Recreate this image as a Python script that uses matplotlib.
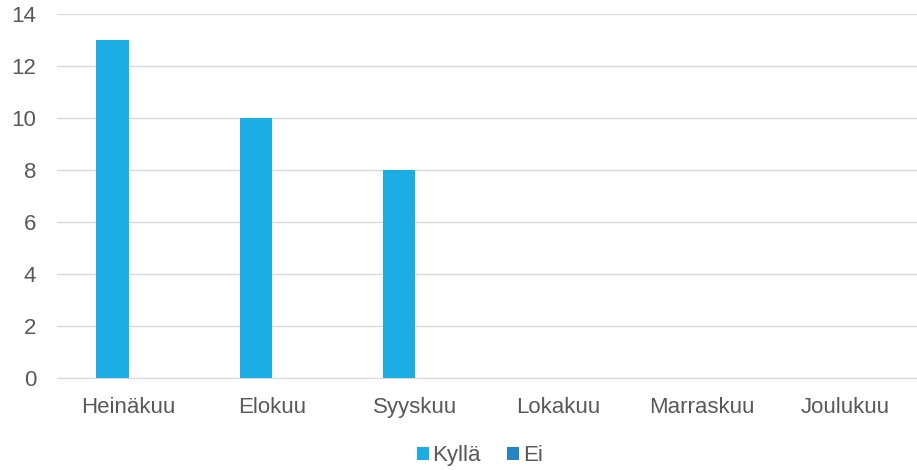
import numpy as np
import matplotlib.pyplot as plt

plt.rcParams['font.family'] = ['Liberation Sans', 'DejaVu Sans']

months = ["Heinäkuu", "Elokuu", "Syyskuu", "Lokakuu", "Marraskuu", "Joulukuu"]
kylla = [13, 10, 8, 0, 0, 0]
ei = [0, 0, 0, 0, 0, 0]

fig = plt.figure(figsize=(9.17, 4.70), dpi=100)
ax = fig.add_axes([0.062, 0.196, 0.938, 0.774])

x = np.arange(len(months))
w = 0.225
ax.bar(x - w / 2, kylla, width=w, color="#1CADE4", label="Kyllä", zorder=3)
ax.bar(x + w / 2, ei, width=w, color="#2683C6", label="Ei", zorder=3)

ax.set_xlim(-0.5, len(months) - 0.5)
ax.set_ylim(0, 14)
ax.set_yticks(range(0, 15, 2))
ax.set_xticks(x)
ax.set_xticklabels(months)
ax.yaxis.grid(True, color="#D9D9D9", linewidth=1, zorder=0)
for s in ["top", "right", "left"]:
    ax.spines[s].set_visible(False)
ax.spines["bottom"].set_color("#D9D9D9")
ax.tick_params(axis="both", length=0, labelsize=16, colors="#595959")
ax.tick_params(axis="x", pad=14)
ax.tick_params(axis="y", pad=15)

leg = fig.legend(loc="lower center", bbox_to_anchor=(0.523, -0.035), ncol=2, frameon=False,
                 fontsize=16, handlelength=0.55, handleheight=0.55, handletextpad=0.15,
                 columnspacing=1.2)
for t in leg.get_texts():
    t.set_color("#595959")

fig.savefig("out.png", dpi=100)
